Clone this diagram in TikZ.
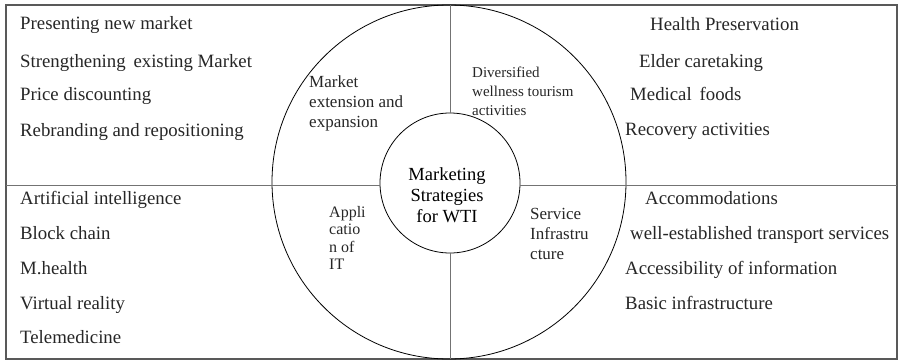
\documentclass[tikz,border=0pt]{standalone}
\usepackage{fontspec}
\setmainfont{Liberation Serif}
\begin{document}
\begin{tikzpicture}[x=1pt,y=-1pt,
    item/.style={anchor=base west,inner sep=0pt,font=\fontsize{18.8}{20}\selectfont,text=black!85},
    lbl/.style={anchor=north west,inner sep=0pt,align=left,text=black!85}]
  \useasboundingbox (0,0) rectangle (901,361);
  \draw[black!65,line width=1.2pt] (6,5) rectangle (897,359);
  % circles
  \draw[line width=0.8pt] (449,182) circle (177);
  \node[circle,draw,line width=0.8pt,minimum size=140pt,inner sep=0pt] (hub) at (450,183) {};
  \node[align=center,inner sep=0pt,font=\fontsize{18.5}{21}\selectfont] (title) at (447,195) {Marketing\\Strategies\\for WTI};
  % dividers
  \coordinate (top) at (450,5);
  \coordinate (bot) at (450,359);
  \coordinate (lft) at (6,185);
  \coordinate (rgt) at (897,185);
  \draw[black!55,line width=1pt] (top) -- (hub.north);
  \draw[black!55,line width=1pt] (hub.south) -- (bot);
  \draw[black!55,line width=1pt] (lft) -- (hub.west |- lft);
  \draw[black!55,line width=1pt] (hub.east |- rgt) -- (rgt);
  % ring labels
  \node[lbl,font=\fontsize{17}{20}\selectfont] (mkt) at (309,76) {Market\\extension and\\expansion};
  \node[lbl,font=\fontsize{15}{19}\selectfont] (div) at (472,67) {Diversified\\wellness tourism\\activities};
  \node[lbl,font=\fontsize{16}{17.5}\selectfont] (app) at (329,206) {Appli\\catio\\n of\\IT};
  \node[lbl,font=\fontsize{17}{20}\selectfont] (srv) at (530,208) {Service\\Infrastru\\cture};
  % top left
  \node[item] (pm) at (20,30) {Presenting new market};
  \node[item] (sm) at (20,67) {Strengthening\, existing Market};
  \node[item] (pd) at (20,100) {Price discounting};
  \node[item] (rr) at (20,136) {Rebranding and repositioning};
  % top right
  \node[item] (hp) at (650,31) {Health Preservation};
  \node[item] (ec) at (639,67) {Elder caretaking};
  \node[item] (mf) at (630,100) {Medical\, foods};
  \node[item] (ra) at (625,135) {Recovery activities};
  % bottom left
  \node[item] (ai) at (20,204) {Artificial intelligence};
  \node[item] (bc) at (20,239) {Block chain};
  \node[item] (mh) at (20,274) {M.health};
  \node[item] (vr) at (20,309) {Virtual reality};
  \node[item] (tm) at (20,343) {Telemedicine};
  % bottom right
  \node[item] (ac) at (645,204) {Accommodations};
  \node[item] (ts) at (630,239) {well-established transport services};
  \node[item] (ai2) at (625,274) {Accessibility of information};
  \node[item] (bi) at (625,309) {Basic infrastructure};
\end{tikzpicture}
\end{document}
